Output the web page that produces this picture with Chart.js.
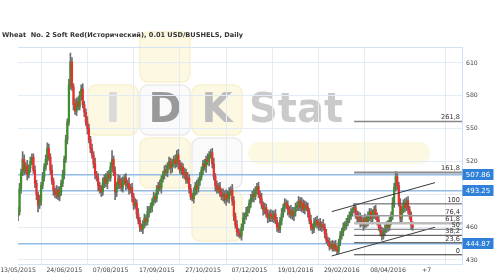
<!DOCTYPE html>
<html><head><meta charset="utf-8">
<script src="https://cdn.jsdelivr.net/npm/chart.js@4.4.1/dist/chart.umd.min.js"></script>
<style>html,body{margin:0;padding:0;background:#fff;}canvas{display:block}</style>
</head><body>
<canvas id="c" width="500" height="280"></canvas>
<script>
// ---------- data ----------
const titleText = 'Wheat  No. 2 Soft Red(Исторический), 0.01 USD/BUSHELS, Daily';

// daily closes, bar index 0 = 13/05/2015 (open of each bar = previous close)
const firstOpen = 470;
const closes = [
 474,495,510,522,512,516,508,514,520,524,
 512,500,490,480,484,498,506,515,522,532,
 524,512,502,494,490,494,488,492,500,508,
 522,540,556,590,611,588,572,566,575,570,
 580,586,572,565,556,550,540,532,526,518,
 508,505,498,494,492,500,505,500,508,505,
 515,522,510,492,498,504,500,496,502,505,
 498,500,494,496,488,480,482,472,466,460,
 458,462,468,465,474,476,478,483,488,486,
 494,498,496,504,508,512,510,516,520,514,
 518,522,518,526,518,512,515,508,510,503,
 505,495,488,486,492,498,495,502,506,512,
 518,515,522,520,526,528,518,506,498,494,
 497,492,488,490,485,490,486,492,494,484,
 470,462,456,454,452,460,468,470,474,476,
 482,486,490,488,494,497,490,486,480,476,
 478,472,468,472,470,468,472,466,460,458,
 466,472,478,482,480,476,472,475,470,474,
 478,480,484,478,482,476,480,478,474,466,
 460,458,464,466,462,464,460,462,460,454,
 448,446,442,444,440,444,440,438,446,452,
 456,460,462,464,468,470,474,476,478,472,
 468,470,464,466,462,468,464,470,474,468,
 472,476,470,466,460,456,452,456,458,462,
 460,466,470,482,496,506,498,482,468,476,
 482,478,484,476,470,462,460
];
// upper shadow length above the body top
const upWick = [
 4,5,3,7,4,3,5,3,4,3,
 3,4,3,2,5,3,4,3,4,5,
 4,3,5,3,2,4,3,5,3,4,
 3,4,3,5,8,4,3,5,3,4,
 4,4,5,3,3,5,4,3,4,3,
 5,3,4,3,4,5,3,4,3,4,
 4,8,3,5,3,4,3,5,4,3,
 4,3,5,3,4,3,4,3,5,3,
 3,4,4,3,5,3,4,3,4,3,
 4,3,5,3,3,4,5,3,4,3,
 4,3,4,4,5,3,4,3,4,3,
 5,3,4,3,4,3,5,3,4,3,
 3,4,3,5,3,3,4,5,3,4,
 3,4,3,5,3,4,3,4,3,5,
 4,3,4,3,4,3,5,3,4,3,
 3,4,3,5,3,3,4,3,5,3,
 4,3,4,3,4,5,3,4,3,4,
 3,5,3,4,3,4,3,5,3,4,
 4,3,4,3,5,3,4,3,4,3,
 5,3,4,3,4,3,4,3,5,3,
 4,3,4,3,4,3,4,3,3,4,
 3,4,3,4,3,4,3,2,3.25,2,
 3,4,3,4,3,4,3,4,3,3,
 4,3,4,3,4,3,4,3,4,3,
 4,3,4,5,4,5,4,3,4,3,
 3,4,3,4,3,4,3
];
// lower shadow length below the body bottom
const downWick = [
 4,3,4,3,4,3,5,3,4,3,
 3,4,5,6,3,4,3,4,3,5,
 3,4,3,5,3,4,3,4,3,3,
 4,3,4,3,4,3,5,3,4,3,
 3,4,3,4,3,5,3,4,3,4,
 4,3,5,3,4,3,4,3,5,3,
 3,4,3,7,4,3,5,3,4,3,
 4,3,4,3,5,4,3,4,3,4,
 2,4,3,4,3,5,3,4,3,4,
 3,4,3,5,3,4,3,4,3,5,
 4,3,4,3,5,3,4,3,4,3,
 3,4,3,2,4,3,5,3,4,3,
 4,3,5,3,4,3,4,3,5,3,
 3,4,3,4,3,5,3,4,3,4,
 4,3,4,3,2,4,3,5,3,4,
 3,4,3,5,3,4,3,4,3,5,
 4,3,4,3,5,3,4,3,4,3,
 3,4,3,4,3,5,3,4,3,4,
 4,3,5,3,4,3,4,3,5,3,
 3,4,3,4,3,5,3,4,3,4,
 3,3,3,2,2,2,2,3.25,2,3,
 3,4,3,4,3,4,3,4,3,4,
 4,3,4,3,5,3,4,3,4,3,
 3,4,3,4,3,4,4,3,4,3,
 4,3,4,3,4,3,4,3,4,3,
 3,4,3,4,3,4,3
];

const xTickPos = [0,30,60,90,120,150,180,210,240,265];
const xTickLabels = ['13/05/2015','24/06/2015','07/08/2015','17/09/2015','27/10/2015','07/12/2015','19/01/2016','29/02/2016','08/04/2016','+7'];
const yTickValues = [430,460,490,520,550,580,610];

const hLineValues = [507.86, 493.25, 444.87];

const fibLabels = ['0','23,6','38,2','50','61,8','76,4','100','161,8','261,8'];
const fibValues = [434.75,445.72,452.51,458.00,463.49,470.28,481.25,509.99,556.49];
const fibStartBar = 218;

const channelUpper = [[203.5,474.15],[270.5,500.66]];
const channelLower = [[203.5,433.66],[270.5,459.89]];

// ---------- axis extents / styles ----------
const X_MAX = 288, Y_MIN = 426.3, Y_MAX = 624.6;
const FONT = 'DejaVu Sans';
const fibColors = ['#333','#444','#444','#777','#bbb','#999','#555','#8c8c8c','#888'];
const fibWidths = [1,1,1,1,2.5,1.5,1,2,1.5];

// ---------- build candle parts ----------
const opens = closes.map((c,i)=> i===0 ? firstOpen : closes[i-1]);
const highs = closes.map((c,i)=> Math.max(opens[i],c) + upWick[i]);
const lows  = closes.map((c,i)=> Math.min(opens[i],c) - downWick[i]);
const bodyColors = closes.map((c,i)=> c>opens[i] ? '#3d8f2c' : (c<opens[i] ? '#f22b2b' : '#777'));

const datasets = [];
fibValues.forEach((v,k)=>{
  datasets.push({type:'line', data:[{x:fibStartBar,y:v},{x:X_MAX,y:v}], borderColor:fibColors[k],
    borderWidth:fibWidths[k], pointRadius:0, order:1});
});
[channelUpper, channelLower].forEach(ch=>{
  datasets.push({type:'line', data:ch.map(p=>({x:p[0],y:p[1]})), borderColor:'#3a3a3a', borderWidth:1, pointRadius:0, order:1});
});
datasets.push({type:'bar', data:closes.map((c,i)=>({x:i,y:[opens[i],c]})), backgroundColor:bodyColors,
  barThickness:1.5, minBarLength:1, grouped:false, order:2});
datasets.push({type:'bar', data:closes.map((c,i)=>({x:i,y:[lows[i],highs[i]]})), backgroundColor:'#6e6e6e',
  barThickness:1, grouped:false, order:3});
hLineValues.forEach(v=>{
  datasets.push({type:'line', data:[{x:0,y:v},{x:X_MAX,y:v}], borderColor:'#92bbe6', borderWidth:1.6, pointRadius:0, order:10});
});

function rr(ctx,x,y,w,h,r){ctx.beginPath();ctx.moveTo(x+r,y);ctx.arcTo(x+w,y,x+w,y+h,r);ctx.arcTo(x+w,y+h,x,y+h,r);ctx.arcTo(x,y+h,x,y,r);ctx.arcTo(x,y,x+w,y,r);ctx.closePath();}

const decor = {
  id:'decor',
  beforeDraw(chart){
    const ctx = chart.ctx;
    ctx.save();
    ctx.fillStyle='#fff'; ctx.fillRect(0,0,chart.width,chart.height);
    // watermark
    const sq = [[140,32,'y'],[88,85,'y'],[140,85,'w'],[192,85,'y'],[140,138,'y'],[192,138,'w'],[192,191,'y']];
    sq.forEach(s=>{
      rr(ctx,s[0],s[1],50,50,8);
      ctx.fillStyle = s[2]==='y' ? '#fdf8e1' : '#fafafa';
      ctx.fill();
      ctx.strokeStyle = s[2]==='y' ? '#f8f0cf' : '#eaeaea';
      ctx.lineWidth=1.5; ctx.stroke();
    });
    rr(ctx,248,142,182,22,11); ctx.fillStyle='#fdf8e1'; ctx.fill();
    ctx.font='bold 40px "'+FONT+'"'; ctx.textAlign='center'; ctx.textBaseline='middle';
    ctx.fillStyle='#dadada'; ctx.fillText('I',113,112);
    ctx.fillStyle='#999999'; ctx.fillText('D',165,112);
    ctx.fillStyle='#bdbdbd'; ctx.fillText('K',217,112);
    ctx.textAlign='left'; ctx.fillStyle='#cacaca'; ctx.fillText('Stat',249,112);
    ctx.restore();
  },
  beforeDatasetsDraw(chart){
    const {ctx, chartArea:a} = chart;
    ctx.save(); ctx.strokeStyle='#d3e3f3'; ctx.lineWidth=1;
    ctx.beginPath(); ctx.moveTo(a.left,a.top+0.5); ctx.lineTo(a.right,a.top+0.5); ctx.stroke();
    ctx.restore();
  },
  afterDraw(chart){
    const ctx = chart.ctx, ys = chart.scales.y;
    ctx.save();
    // fib labels
    ctx.font='6.6px "'+FONT+'"'; ctx.fillStyle='#333'; ctx.textAlign='right'; ctx.textBaseline='bottom';
    fibValues.forEach((v,k)=>{ ctx.fillText(fibLabels[k], 460, ys.getPixelForValue(v)-0.5); });
    // value boxes
    ctx.font='7px "'+FONT+'"'; ctx.textAlign='center'; ctx.textBaseline='middle';
    hLineValues.forEach(v=>{
      const y = ys.getPixelForValue(v);
      ctx.fillStyle='#2f80d8'; ctx.fillRect(462.5,Math.round(y-5.5),31,11);
      ctx.fillStyle='#fff'; ctx.fillText(v.toFixed(2),478,y+0.5);
    });
    // title
    let fs=8; ctx.textAlign='left'; ctx.textBaseline='middle'; ctx.fillStyle='#333';
    do { ctx.font='bold '+fs+'px "'+FONT+'"'; fs-=0.1; } while (ctx.measureText(titleText).width>241 && fs>4);
    ctx.fillText(titleText,2,35);
    ctx.restore();
  }
};

new Chart(document.getElementById('c'), {
  type:'bar',
  data:{datasets},
  options:{
    responsive:false, animation:false, devicePixelRatio:1,
    layout:{padding:{left:18,top:47,right:0,bottom:0}},
    plugins:{legend:{display:false}, tooltip:{enabled:false}},
    scales:{
      x:{type:'linear', min:0, max:X_MAX, offset:false,
        afterBuildTicks:s=>{ s.ticks = xTickPos.map(v=>({value:v})); },
        afterFit:s=>{ s.height=16; s.paddingLeft=0; s.paddingRight=0; },
        grid:{color:c=> (c.tick && c.tick.value===265) ? 'rgba(0,0,0,0)' : '#e3ebf5', drawTicks:false, lineWidth:1},
        border:{color:'#d3e3f3'},
        ticks:{autoSkip:false, maxRotation:0, padding:3, color:'#444', font:{family:FONT,size:6.2},
          callback:v=>{ const k=xTickPos.indexOf(v); return k>=0 ? xTickLabels[k] : ''; }}
      },
      y:{type:'linear', position:'right', min:Y_MIN, max:Y_MAX,
        afterBuildTicks:s=>{ s.ticks = yTickValues.map(v=>({value:v})); },
        afterFit:s=>{ s.width=38; s.paddingTop=0; s.paddingBottom=0; },
        grid:{color:'#e3ebf5', drawTicks:false},
        border:{color:'#cddff2'},
        ticks:{padding:4, color:'#444', font:{family:FONT,size:6.2}}
      }
    }
  },
  plugins:[decor]
});
</script>
</body></html>
